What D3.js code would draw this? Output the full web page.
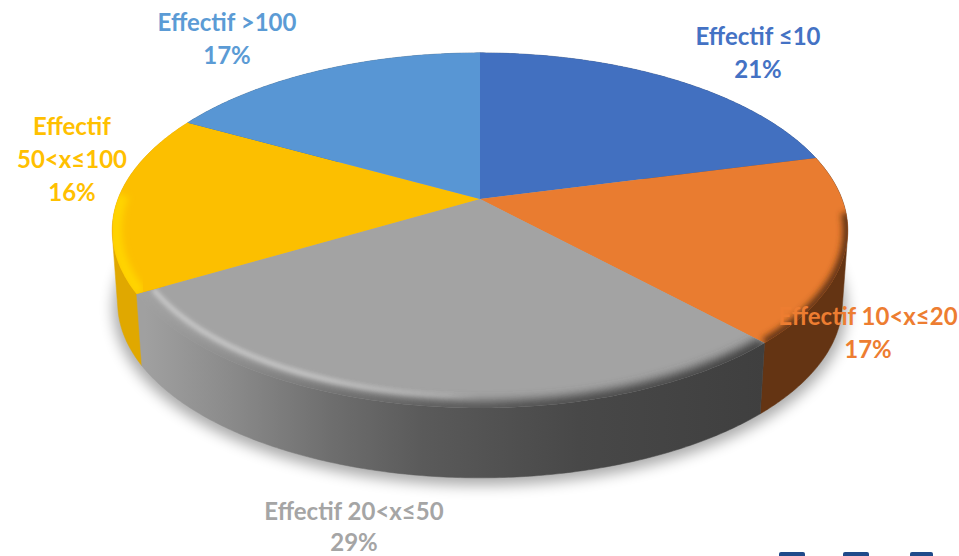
<!DOCTYPE html>
<html><head><meta charset="utf-8">
<script src="https://cdn.jsdelivr.net/npm/d3@7"></script>
<style>html,body{margin:0;padding:0;background:#fff}svg{display:block}text{font-family:Lato,"Open Sans",sans-serif;font-weight:700;font-size:24px;text-anchor:middle}</style>
</head><body><svg id="c" width="959" height="556"></svg>
<script>
const categories=["Effectif ≤10","Effectif 10<x≤20","Effectif 20<x≤50","Effectif 50<x≤100","Effectif >100"];
const values=[21,17,28.6,16.4,17];
const percentLabels=["21%","17%","29%","16%","17%"];
const labelLines=[["Effectif ≤10","21%"],["Effectif 10<x≤20","17%"],["Effectif 20<x≤50","29%"],["Effectif","50<x≤100","16%"],["Effectif >100","17%"]];
const topColors=["#4270c0","#e97c30","#a3a3a3","#fcbf00","#5896d4"];
const textColors=["#4472c4","#ed7d31","#a5a5a5","#ffc000","#5b9bd5"];
const sideColors=["#2a4a80","#643413","url(#grayside)","#e0a800","#3a6690"];
const sideOrder=[4,0,3,1,2];
const labelAnchors=[[758,45],[868,325],[354,520],[72,135],[227,31]];
const lineStep=[33,33,31,33,33];

const svg=d3.select("#c");
const defs=svg.append("defs");
const cx=480,cy=199,a=362,b=172,k=-0.177,depth=73,bottomScale=0.985;
const sx=d3.scaleLinear().domain([-1,1]).range([cx-a,cx+a]);
const sy=d3.scaleLinear().domain([-1,1]).range([-b,b]);
function pt(t,r=1,dy=0,s=1){
  const x=Math.sin(t)*r,y=-Math.cos(t)*r,w=1+k*y;
  return [cx+(sx(x)-cx)/w*s, cy+dy+sy(y)/w*s];
}
const line=d3.line().x(d=>d[0]).y(d=>d[1]);
const samples=(t0,t1,r=1,dy=0,s=1)=>{
  const n=Math.max(2,Math.ceil((t1-t0)/0.01));
  return d3.range(n+1).map(i=>pt(t0+(t1-t0)*i/n,r,dy,s));
};
const arcs=d3.pie().sort(null).value(d=>d)(values);

// defs
const mkGrad=(id,stops,x1,x2)=>{
  const g=defs.append("linearGradient").attr("id",id).attr("gradientUnits","userSpaceOnUse")
    .attr("x1",x1).attr("x2",x2).attr("y1",0).attr("y2",0);
  stops.forEach(s=>g.append("stop").attr("offset",s[0]).attr("stop-color",s[1]).attr("stop-opacity",s[2]===undefined?1:s[2]));
};
mkGrad("grayside",[[0,"#a0a0a0"],[0.14,"#8a8a8a"],[0.3,"#6e6e6e"],[0.45,"#5a5a5a"],[0.7,"#484848"],[1,"#3f3f3f"]],145,765);
mkGrad("hl",[[0,"#ffffff",0.4],[0.55,"#ffffff",0.4],[0.9,"#ffffff",0.2],[1,"#ffffff",0]],140,480);
const blur=(id,sd)=>defs.append("filter").attr("id",id).attr("x","-10%").attr("y","-20%").attr("width","120%").attr("height","140%")
  .append("feGaussianBlur").attr("stdDeviation",sd);
blur("sh",7);blur("b3",5);blur("b2",3);blur("b1",2);

// shadow
svg.append("path").attr("d",line(samples(0,2*Math.PI,1,depth+5,bottomScale*1.012))+"Z")
  .attr("fill","#000").attr("opacity",0.33).attr("filter","url(#sh)");

// sides
sideOrder.forEach(i=>{
  const d=arcs[i];
  const top=samples(d.startAngle,d.endAngle);
  const bot=samples(d.startAngle,d.endAngle,1,depth,bottomScale);
  const hull=d3.polygonHull(top.concat(bot));
  svg.append("path").attr("d",line(hull)+"Z").attr("fill",sideColors[i]).attr("stroke",sideColors[i]).attr("stroke-width",0.5);
});

// top slices
const slice=d=>line([pt(0,0)].concat(samples(d.startAngle,d.endAngle)))+"Z";
arcs.forEach((d,i)=>{
  defs.append("clipPath").attr("id","clip"+i).append("path").attr("d",slice(d));
  svg.append("path").attr("d",slice(d)).attr("fill",topColors[i]);
  const g=svg.append("g").attr("clip-path",`url(#clip${i})`);
  if(i===1){
    g.append("path").attr("d",line(samples(Math.max(d.startAngle,1.65),d.endAngle))).attr("fill","none")
     .attr("stroke",sideColors[i]).attr("stroke-width",10).attr("filter","url(#b2)");
  }
  if(i===2){
    g.append("path").attr("d",line(samples(d.startAngle,d.endAngle))).attr("fill","none")
     .attr("stroke",sideColors[i]).attr("stroke-width",14).attr("filter","url(#b3)");
    g.append("path").attr("d",line(samples(Math.PI,d.endAngle,0.955))).attr("fill","none")
     .attr("stroke","url(#hl)").attr("stroke-width",5).attr("filter","url(#b1)");
  }
  if(i===3){
    g.append("path").attr("d",line(samples(d.startAngle,d.startAngle+0.55,0.99))).attr("fill","none")
     .attr("stroke","#ffd400").attr("stroke-width",12).attr("filter","url(#b2)");
  }
});

// labels
labelLines.forEach((ls,i)=>{
  const [lx,ly]=labelAnchors[i];
  ls.forEach((s,j)=>svg.append("text").attr("x",lx).attr("y",ly+j*lineStep[i]).attr("fill",textColors[i]).text(s));
});

// cropped logo at the bottom edge
[[779,26],[843,26],[910,23]].forEach(r=>{
  svg.append("rect").attr("x",r[0]).attr("y",552).attr("width",r[1]).attr("height",6).attr("rx",2).attr("fill","#1f4a8a");
});
</script></body></html>
